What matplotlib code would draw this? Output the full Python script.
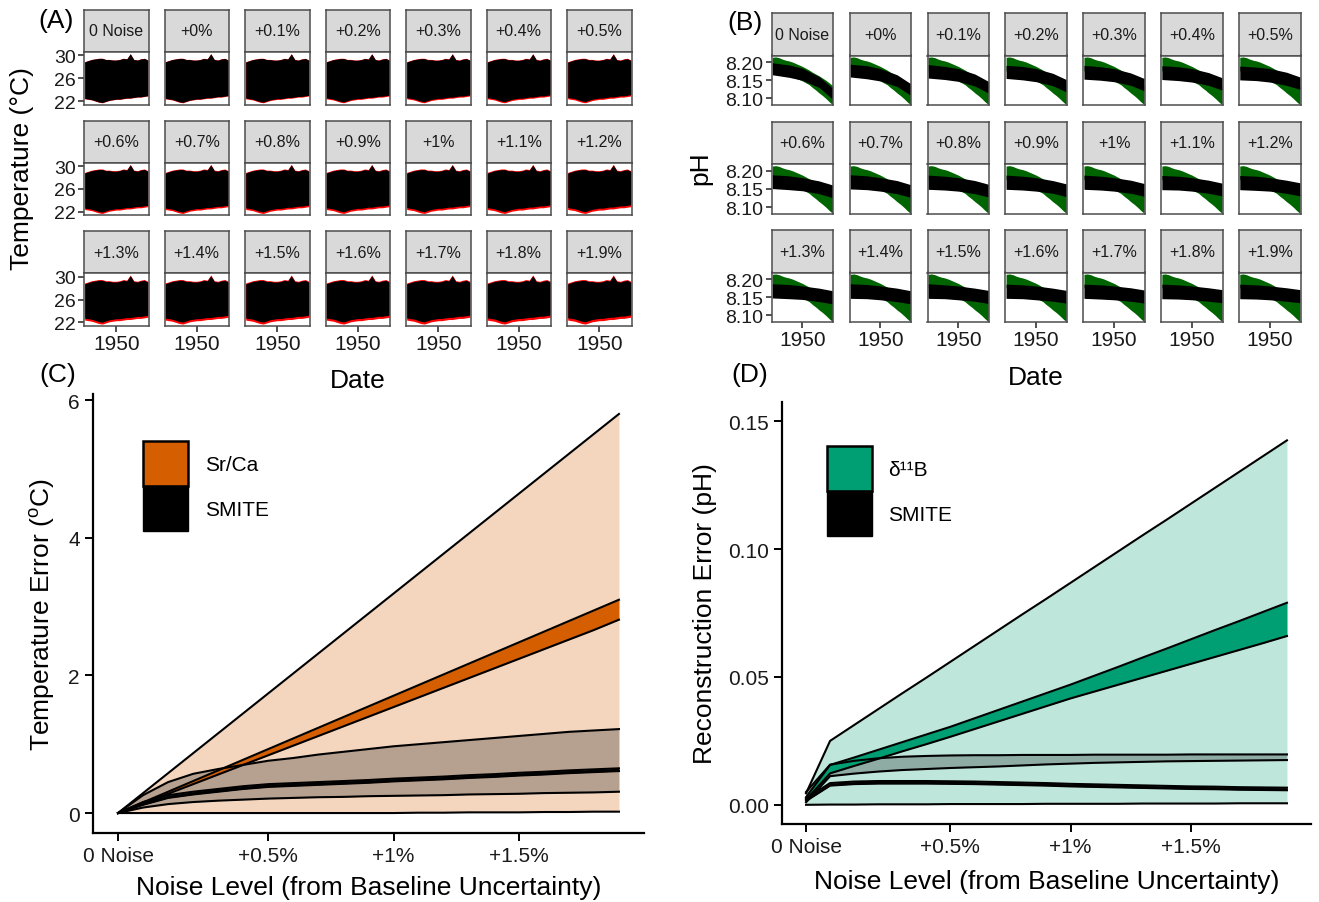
import matplotlib
matplotlib.use('Agg')
import matplotlib.pyplot as plt
from matplotlib.patches import Patch

plt.rcParams['font.family'] = ['Liberation Sans', 'DejaVu Sans']

# ---------------- data ----------------
facet_labels = ['0 Noise', '+0%', '+0.1%', '+0.2%', '+0.3%', '+0.4%', '+0.5%',
                '+0.6%', '+0.7%', '+0.8%', '+0.9%', '+1%', '+1.1%', '+1.2%',
                '+1.3%', '+1.4%', '+1.5%', '+1.6%', '+1.7%', '+1.8%', '+1.9%']
noise_pos = list(range(len(facet_labels)))
noise_ticks = [0, 6, 11, 16]
noise_ticklabels = ['0 Noise', '+0.5%', '+1%', '+1.5%']

years = [1905, 1910, 1915, 1920, 1925, 1930, 1935, 1940, 1945, 1950,
         1955, 1960, 1965, 1970, 1975, 1980, 1985, 1990, 1995]

# (A) true temperature envelope (red) and reconstruction (black) offsets
temp_true_upper = [28.9, 29.1, 29.3, 29.4, 29.5, 29.5, 29.3, 29.3, 29.2, 29.2,
                   29.3, 29.5, 29.4, 30.3, 29.3, 29.2, 29.4, 29.5, 29.2]
temp_true_lower = [22.4, 22.3, 22.2, 22.0, 21.8, 21.7, 21.9, 22.1, 22.2, 22.3,
                   22.3, 22.4, 22.5, 22.5, 22.6, 22.7, 22.7, 22.8, 22.9]
temp_top_gap = [0.02, 0.03, 0.04, 0.05, 0.06, 0.07, 0.08, 0.09, 0.10, 0.10, 0.11,
                0.11, 0.12, 0.12, 0.13, 0.13, 0.14, 0.14, 0.15, 0.15, 0.15]
temp_bot_gap = [0.05, 0.08, 0.12, 0.15, 0.18, 0.20, 0.22, 0.24, 0.26, 0.28, 0.30,
                0.31, 0.32, 0.33, 0.34, 0.35, 0.36, 0.37, 0.38, 0.39, 0.40]

# (B) true pH envelope (green)
ph_true_upper = [8.213, 8.214, 8.212, 8.208, 8.205, 8.203, 8.200, 8.196, 8.192, 8.188,
                 8.183, 8.178, 8.172, 8.167, 8.162, 8.156, 8.150, 8.143, 8.135]
ph_true_lower = [8.176, 8.172, 8.170, 8.168, 8.165, 8.162, 8.158, 8.155, 8.152, 8.148,
                 8.143, 8.138, 8.130, 8.123, 8.115, 8.108, 8.100, 8.091, 8.083]
# (B) reconstruction band (black) at knots, one value per facet
ph_knots = [1905, 1930, 1950, 1975, 1995]
ph_top = [
    [8.198, 8.194, 8.193, 8.191, 8.191, 8.190, 8.189, 8.189, 8.189, 8.188, 8.188,
     8.188, 8.187, 8.187, 8.187, 8.187, 8.187, 8.186, 8.186, 8.186, 8.186],
    [8.192, 8.190, 8.188, 8.188, 8.187, 8.187, 8.186, 8.186, 8.186, 8.185, 8.185,
     8.185, 8.185, 8.185, 8.185, 8.185, 8.184, 8.184, 8.184, 8.184, 8.184],
    [8.183, 8.182, 8.182, 8.182, 8.182, 8.182, 8.182, 8.181, 8.181, 8.181, 8.181,
     8.181, 8.181, 8.181, 8.181, 8.181, 8.181, 8.181, 8.181, 8.181, 8.181],
    [8.160, 8.165, 8.167, 8.169, 8.170, 8.171, 8.172, 8.172, 8.173, 8.173, 8.173,
     8.174, 8.174, 8.174, 8.175, 8.175, 8.175, 8.175, 8.176, 8.176, 8.176],
    [8.128, 8.141, 8.147, 8.152, 8.155, 8.157, 8.159, 8.161, 8.162, 8.163, 8.164,
     8.165, 8.166, 8.167, 8.168, 8.168, 8.169, 8.169, 8.170, 8.171, 8.171],
]
ph_bot = [
    [8.165, 8.159, 8.156, 8.155, 8.153, 8.152, 8.151, 8.151, 8.150, 8.149, 8.149,
     8.149, 8.148, 8.148, 8.148, 8.147, 8.147, 8.147, 8.147, 8.146, 8.146],
    [8.158, 8.154, 8.152, 8.151, 8.150, 8.149, 8.149, 8.148, 8.148, 8.147, 8.147,
     8.147, 8.147, 8.146, 8.146, 8.146, 8.146, 8.146, 8.145, 8.145, 8.145],
    [8.150, 8.148, 8.147, 8.146, 8.146, 8.145, 8.145, 8.145, 8.144, 8.144, 8.144,
     8.144, 8.144, 8.144, 8.144, 8.143, 8.143, 8.143, 8.143, 8.143, 8.143],
    [8.130, 8.133, 8.134, 8.135, 8.136, 8.136, 8.136, 8.137, 8.137, 8.137, 8.138,
     8.138, 8.138, 8.138, 8.138, 8.138, 8.139, 8.139, 8.139, 8.139, 8.139],
    [8.098, 8.109, 8.115, 8.118, 8.121, 8.123, 8.125, 8.126, 8.127, 8.128, 8.129,
     8.130, 8.131, 8.131, 8.132, 8.132, 8.133, 8.134, 8.134, 8.135, 8.135],
]

# (C) temperature error
srca_range_hi = [0, 0.29, 0.58, 0.87, 1.16, 1.45, 1.74, 2.03, 2.32, 2.61, 2.90,
                 3.19, 3.48, 3.77, 4.06, 4.35, 4.64, 4.93, 5.22, 5.51, 5.80]
srca_range_lo = [0, 0, 0, 0, 0, 0, 0, 0, 0, 0, 0, 0, 0.005, 0.005, 0.01, 0.01,
                 0.01, 0.015, 0.015, 0.02, 0.02]
srca_mean_hi = [0, 0.155, 0.31, 0.465, 0.62, 0.775, 0.93, 1.085, 1.24, 1.395, 1.55,
                1.705, 1.86, 2.015, 2.17, 2.325, 2.48, 2.635, 2.79, 2.945, 3.10]
srca_mean_lo = [0, 0.14, 0.28, 0.42, 0.56, 0.70, 0.84, 0.98, 1.12, 1.26, 1.40,
                1.54, 1.68, 1.82, 1.96, 2.10, 2.24, 2.38, 2.52, 2.66, 2.81]
smite_t_range_hi = [0, 0.26, 0.45, 0.57, 0.64, 0.70, 0.76, 0.80, 0.85, 0.89, 0.93,
                    0.97, 1.00, 1.03, 1.06, 1.09, 1.12, 1.15, 1.18, 1.20, 1.22]
smite_t_range_lo = [0, 0.08, 0.13, 0.16, 0.18, 0.195, 0.21, 0.22, 0.23, 0.235, 0.245,
                    0.25, 0.255, 0.26, 0.27, 0.275, 0.28, 0.29, 0.295, 0.30, 0.31]
smite_t_mean_hi = [0, 0.16, 0.26, 0.31, 0.35, 0.39, 0.42, 0.435, 0.45, 0.465, 0.48,
                   0.50, 0.515, 0.53, 0.55, 0.565, 0.585, 0.60, 0.62, 0.635, 0.65]
smite_t_mean_lo = [0, 0.12, 0.22, 0.27, 0.31, 0.35, 0.38, 0.395, 0.41, 0.425, 0.44,
                   0.46, 0.475, 0.49, 0.51, 0.525, 0.545, 0.56, 0.58, 0.595, 0.61]

# (D) pH error
d11b_range_hi = [0.0045, 0.025, 0.0312, 0.0374, 0.0436, 0.0497, 0.0559, 0.0621, 0.0683,
                 0.0745, 0.0806, 0.0868, 0.093, 0.0992, 0.1054, 0.1115, 0.1177, 0.1239,
                 0.1301, 0.1363, 0.1425]
d11b_range_lo = [0, 0.0001, 0.0001, 0.0002, 0.0002, 0.0002, 0.0003, 0.0003, 0.0003, 0.0003,
                 0.0004, 0.0004, 0.0004, 0.0004, 0.0005, 0.0005, 0.0005, 0.0005, 0.0006,
                 0.0006, 0.0006]
d11b_mean_hi = [0.003, 0.0156, 0.0185, 0.0215, 0.0245, 0.0275, 0.0305, 0.0338, 0.0371,
                0.0404, 0.0437, 0.047, 0.0505, 0.054, 0.0576, 0.0611, 0.0647, 0.0683,
                0.0718, 0.0754, 0.079]
d11b_mean_lo = [0.002, 0.0123, 0.0152, 0.018, 0.0209, 0.0237, 0.0266, 0.0296, 0.0326,
                0.0356, 0.0386, 0.0416, 0.0443, 0.047, 0.0497, 0.0524, 0.0551, 0.0578,
                0.0605, 0.0632, 0.066]
smite_p_range_hi = [0.005, 0.0157, 0.0172, 0.0182, 0.0188, 0.0191, 0.0193, 0.0194, 0.0194,
                    0.0195, 0.0195, 0.0195, 0.0196, 0.0196, 0.0196, 0.0196, 0.0197, 0.0197,
                    0.0197, 0.0197, 0.0197]
smite_p_range_lo = [0.001, 0.0112, 0.0122, 0.013, 0.0136, 0.014, 0.0144, 0.0147, 0.015,
                    0.0154, 0.0158, 0.0161, 0.0164, 0.0166, 0.0168, 0.017, 0.0171, 0.0172,
                    0.0173, 0.0174, 0.0175]
smite_p_mean_hi = [0.0025, 0.0085, 0.0091, 0.0093, 0.0093, 0.0093, 0.0092, 0.0091, 0.0089,
                   0.0087, 0.0085, 0.0082, 0.008, 0.0078, 0.0076, 0.0074, 0.0072, 0.0071,
                   0.0069, 0.0068, 0.0067]
smite_p_mean_lo = [0.0015, 0.0075, 0.0081, 0.0083, 0.0083, 0.0083, 0.0082, 0.0081, 0.0079,
                   0.0077, 0.0075, 0.0072, 0.007, 0.0068, 0.0066, 0.0064, 0.0062, 0.0061,
                   0.0059, 0.0058, 0.0057]

# ---------------- figure ----------------
W, H = 1319, 903
fig = plt.figure(figsize=(W / 100, H / 100), dpi=100)
TXT = '#1a1a1a'


def ax_px(x0, y0, x1, y1):
    return fig.add_axes([x0 / W, 1 - y1 / H, (x1 - x0) / W, (y1 - y0) / H])


def ftext(x, y, s, **kw):
    fig.text(x / W, 1 - y / H, s, **kw)


def small_multiples(col0, pitch, pw, row_tops, sh, ph, draw, ylim, yticks, yticklabels):
    for p, lab in enumerate(facet_labels):
        r, c = divmod(p, 7)
        x0 = col0 + c * pitch
        st = row_tops[r]
        sax = ax_px(x0, st, x0 + pw, st + sh)
        sax.set_facecolor('#D9D9D9')
        sax.set_xticks([])
        sax.set_yticks([])
        for s in sax.spines.values():
            s.set_color('#4D4D4D')
            s.set_linewidth(1.1)
        sax.text(0.5, 0.5, lab, ha='center', va='center', fontsize=11.5,
                 color=TXT, transform=sax.transAxes)
        pax = ax_px(x0, st + sh, x0 + pw, st + sh + ph)
        draw(pax, p)
        pax.set_xlim(1904, 1996)
        pax.set_ylim(*ylim)
        for s in pax.spines.values():
            s.set_color('#4D4D4D')
            s.set_linewidth(1.1)
        pax.tick_params(direction='out', length=4.5, width=1.2, color='#333333',
                        labelcolor=TXT, pad=1.5)
        if c == 0:
            pax.set_yticks(yticks)
            pax.set_yticklabels(yticklabels, fontsize=14)
        else:
            pax.set_yticks([])
        if r == 2:
            pax.set_xticks([1950])
            pax.set_xticklabels(['1950'], fontsize=15)
        else:
            pax.set_xticks([])


def draw_temp(ax, p):
    ax.fill_between(years, temp_true_lower, temp_true_upper, color='#FF0000', lw=0)
    hi = [v - temp_top_gap[p] for v in temp_true_upper]
    lo = [v + temp_bot_gap[p] for v in temp_true_lower]
    ax.fill_between(years, lo, hi, color='black', lw=0)


def draw_ph(ax, p):
    ax.fill_between(years, ph_true_lower, ph_true_upper, color='#006400', lw=0)
    top = [row[p] for row in ph_top]
    bot = [row[p] for row in ph_bot]
    ax.fill_between(ph_knots, bot, top, color='black', lw=0)


small_multiples(84, 80.5, 64.5, [11, 121.7, 232.3], 42, 52.5, draw_temp,
                (21.4, 30.6), [22, 26, 30], ['22', '26', '30'])
small_multiples(771.7, 77.9, 61.5, [14, 122.7, 231], 42.5, 49.5, draw_ph,
                (8.082, 8.218), [8.10, 8.15, 8.20], ['8.10', '8.15', '8.20'])

ftext(56, 21, '(A)', fontsize=19, ha='center', va='center', color='black')
ftext(745, 23, '(B)', fontsize=19, ha='center', va='center', color='black')
ftext(58, 375, '(C)', fontsize=19, ha='center', va='center', color='black')
ftext(750, 375, '(D)', fontsize=19, ha='center', va='center', color='black')
ftext(22, 169, 'Temperature (°C)', fontsize=19, rotation=90, ha='center', va='center')
ftext(700, 168, 'pH', fontsize=19, rotation=90, ha='center', va='center')
ftext(358, 381, 'Date', fontsize=19, ha='center', va='center')
ftext(1036, 378, 'Date', fontsize=19, ha='center', va='center')


def ribbon(ax, lo, hi, color, alpha, lw):
    ax.fill_between(noise_pos, lo, hi, color=color, alpha=alpha, lw=0)
    ax.plot(noise_pos, hi, color='black', lw=lw, solid_joinstyle='round')
    ax.plot(noise_pos, lo, color='black', lw=lw, solid_joinstyle='round')


def style_err_axes(ax, labelpad):
    ax.spines['top'].set_visible(False)
    ax.spines['right'].set_visible(False)
    for s in ('left', 'bottom'):
        ax.spines[s].set_linewidth(1.6)
        ax.spines[s].set_color('black')
    ax.set_xlim(-1, 21)
    ax.set_xticks(noise_ticks)
    ax.set_xticklabels(noise_ticklabels)
    ax.tick_params(direction='out', length=6, width=1.4, color='black',
                   labelcolor=TXT, labelsize=15, pad=3.5)
    ax.set_xlabel('Noise Level (from Baseline Uncertainty)', fontsize=19,
                  labelpad=labelpad)


ORANGE = '#D55E00'
GREEN = '#009E73'
LEG = dict(loc='upper left', frameon=False, fontsize=15, handlelength=2.15,
           handleheight=2.95, handletextpad=0.8, labelspacing=0.0, borderpad=0,
           borderaxespad=0)

# (C)
axC = ax_px(93, 395, 644, 834)
ribbon(axC, srca_range_lo, srca_range_hi, ORANGE, 0.25, 1.5)
ribbon(axC, smite_t_range_lo, smite_t_range_hi, 'black', 0.25, 1.5)
ribbon(axC, srca_mean_lo, srca_mean_hi, ORANGE, 1.0, 1.5)
ribbon(axC, smite_t_mean_lo, smite_t_mean_hi, 'black', 1.0, 1.5)
style_err_axes(axC, 7)
axC.set_ylim(-0.29, 6.09)
axC.set_yticks([0, 2, 4, 6])
axC.set_yticklabels(['0', '2', '4', '6'])
axC.set_ylabel('Temperature Error ($^{\\mathregular{o}}$C)', fontsize=19, labelpad=8)
hC = [Patch(facecolor=ORANGE, edgecolor='black', lw=1.8),
      Patch(facecolor='black', edgecolor='black', lw=1.0)]
axC.legend(hC, ['Sr/Ca', 'SMITE'], bbox_to_anchor=(0.091, 0.893), **LEG)

# (D)
axD = ax_px(782, 403, 1311, 825)
ribbon(axD, d11b_range_lo, d11b_range_hi, GREEN, 0.25, 1.5)
ribbon(axD, smite_p_range_lo, smite_p_range_hi, 'black', 0.25, 1.5)
ribbon(axD, d11b_mean_lo, d11b_mean_hi, GREEN, 1.0, 1.5)
ribbon(axD, smite_p_mean_lo, smite_p_mean_hi, 'black', 1.0, 1.5)
style_err_axes(axD, 9)
axD.set_ylim(-0.0075, 0.1575)
axD.set_yticks([0, 0.05, 0.10, 0.15])
axD.set_yticklabels(['0.00', '0.05', '0.10', '0.15'])
axD.set_ylabel('Reconstruction Error (pH)', fontsize=19, labelpad=8)
hD = [Patch(facecolor=GREEN, edgecolor='black', lw=1.8),
      Patch(facecolor='black', edgecolor='black', lw=1.0)]
axD.legend(hD, ['δ¹¹B', 'SMITE'], bbox_to_anchor=(0.085, 0.895), **LEG)

fig.savefig('out.png', dpi=100)
